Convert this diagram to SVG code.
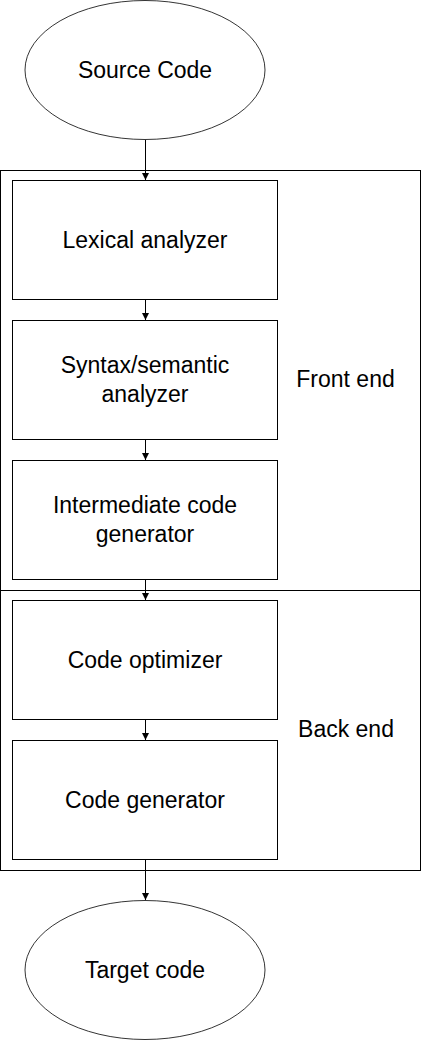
<svg xmlns="http://www.w3.org/2000/svg" width="421" height="1041" viewBox="0 0 421 1041">
<style>
.s{fill:#fff;stroke:#000;stroke-width:1}
.e{fill:#fff;stroke:#000;stroke-width:0.8}
.t{font-family:"Liberation Sans",Arial,sans-serif;font-size:23px;fill:#000;text-anchor:middle}
.c{stroke:#000;stroke-width:1;fill:none}
</style>
<defs>
<marker id="a" markerWidth="8" markerHeight="8" refX="7" refY="4" orient="auto" markerUnits="userSpaceOnUse">
<path d="M0,0.5 L7,4 L0,7.5 Z" fill="#000"/>
</marker>
</defs>
<rect x="0" y="0" width="421" height="1041" fill="#fff"/>
<g id="frame">
<rect x="0.5" y="170.5" width="420" height="700" class="s"/>
<line x1="0.5" y1="590.5" x2="420.5" y2="590.5" class="c"/>
<text x="345.5" y="386.5" class="t">Front end</text>
<text x="346" y="736.5" class="t">Back end</text>
</g>
<g id="source">
<ellipse cx="145" cy="70" rx="120" ry="69.5" class="e"/>
<text x="145" y="77.5" class="t">Source Code</text>
</g>
<g id="lexical">
<rect x="12.5" y="180.5" width="265" height="119" class="s"/>
<text x="145" y="247.5" class="t">Lexical analyzer</text>
</g>
<g id="syntax">
<rect x="12.5" y="320.5" width="265" height="119" class="s"/>
<text x="145" y="372.5" class="t">Syntax/semantic</text>
<text x="145" y="401.5" class="t">analyzer</text>
</g>
<g id="intermediate">
<rect x="12.5" y="460.5" width="265" height="119" class="s"/>
<text x="145" y="512.5" class="t">Intermediate code</text>
<text x="145" y="541.5" class="t">generator</text>
</g>
<g id="optimizer">
<rect x="12.5" y="600.5" width="265" height="119" class="s"/>
<text x="145" y="667.5" class="t">Code optimizer</text>
</g>
<g id="generator">
<rect x="12.5" y="740.5" width="265" height="119" class="s"/>
<text x="145" y="807.5" class="t">Code generator</text>
</g>
<g id="target">
<ellipse cx="145" cy="970" rx="120" ry="69.5" class="e"/>
<text x="145" y="977.5" class="t">Target code</text>
</g>
<g id="connectors">
<line x1="145.5" y1="140" x2="145.5" y2="180" class="c" marker-end="url(#a)"/>
<line x1="145.5" y1="300" x2="145.5" y2="320" class="c" marker-end="url(#a)"/>
<line x1="145.5" y1="440" x2="145.5" y2="460" class="c" marker-end="url(#a)"/>
<line x1="145.5" y1="580" x2="145.5" y2="600" class="c" marker-end="url(#a)"/>
<line x1="145.5" y1="720" x2="145.5" y2="740" class="c" marker-end="url(#a)"/>
<line x1="145.5" y1="860" x2="145.5" y2="900" class="c" marker-end="url(#a)"/>
</g>
</svg>
